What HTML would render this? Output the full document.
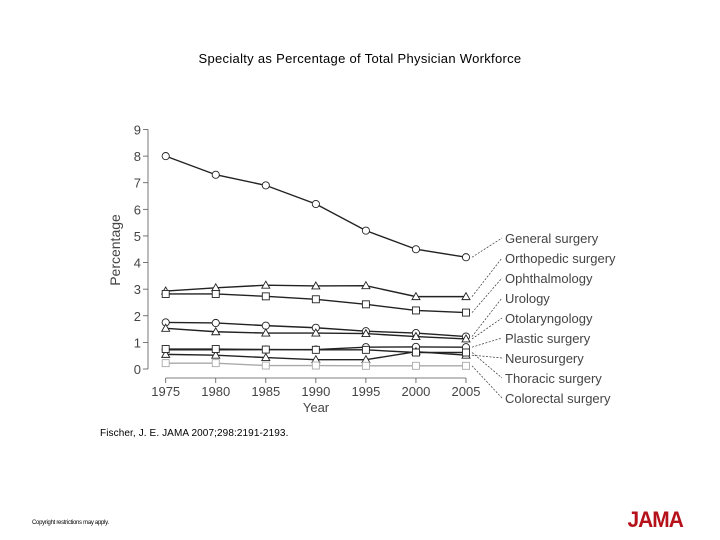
<!DOCTYPE html>
<html><head><meta charset="utf-8"><style>
body{margin:0;background:#fff;width:720px;height:540px;overflow:hidden;position:relative;font-family:"Liberation Sans",sans-serif}
.t{position:absolute;white-space:nowrap}
</style></head><body>
<div class="t" style="left:0;width:720px;text-align:center;top:51px;font-size:13px;letter-spacing:0.3px;color:#000">Specialty as Percentage of Total Physician Workforce</div>
<div class="t" style="left:100px;top:428px;font-size:10px;letter-spacing:0.1px">Fischer, J. E. JAMA 2007;298:2191-2193.</div>
<div class="t" style="left:32px;top:520px;font-size:6px;letter-spacing:-0.3px">Copyright restrictions may apply.</div>
<div class="t" style="left:626px;top:507px;font-size:22px;color:#b5121b;font-weight:bold;letter-spacing:-1px;transform:scaleX(0.95)">JAMA</div>
<svg id="chart" width="720" height="540" style="position:absolute;left:0;top:0" xmlns="http://www.w3.org/2000/svg"></svg>
<script>
const years=[1975,1980,1985,1990,1995,2000,2005];
const yTicks=[0,1,2,3,4,5,6,7,8,9];
const names=["General surgery","Orthopedic surgery","Ophthalmology","Urology","Otolaryngology","Plastic surgery","Neurosurgery","Thoracic surgery","Colorectal surgery"];
const general=[8.0,7.3,6.9,6.2,5.2,4.5,4.2];
const ortho=[2.93,3.05,3.15,3.12,3.13,2.72,2.72];
const ophth=[2.82,2.82,2.73,2.62,2.43,2.2,2.12];
const urology=[1.75,1.73,1.63,1.55,1.42,1.35,1.22];
const otolaryngology=[1.53,1.4,1.35,1.35,1.33,1.22,1.13];
const plastic=[0.72,0.72,0.73,0.73,0.82,0.83,0.82];
const neuro=[0.55,0.52,0.43,0.35,0.35,0.65,0.52];
const thoracic=[0.75,0.75,0.73,0.72,0.72,0.62,0.62];
const colorectal=[0.22,0.22,0.13,0.13,0.12,0.12,0.12];
const series=[general,ortho,ophth,urology,otolaryngology,plastic,neuro,thoracic,colorectal];
const markers=["c","t","s","c","t","c","t","s","s"];
const colors=["#222","#222","#222","#222","#222","#222","#222","#222","#aaa"];
const svg=document.getElementById('chart');
const NS="http://www.w3.org/2000/svg";
const X=y=>165.7+(y-1975)*(466-165.7)/30;
const Y=v=>369-v*(369-129.5)/9;
function el(t,a,p){const e=document.createElementNS(NS,t);for(const k in a)e.setAttribute(k,a[k]);(p||svg).appendChild(e);return e;}
let e;
e=el('line',{x1:148,x2:148,y1:Y(9),y2:Y(0),stroke:'#555','stroke-width':0.8});

e=el('line',{x1:X(1975),x2:X(2005),y1:378,y2:378,stroke:'#555','stroke-width':0.8});

yTicks.forEach(v=>{
 el('line',{x1:143,x2:148,y1:Y(v),y2:Y(v),stroke:'#555','stroke-width':0.8});
 e=el('text',{x:141,y:Y(v)+5,'text-anchor':'end','font-size':13,fill:'#444'});e.textContent=v;
 
});
years.forEach(y=>{
 el('line',{x1:X(y),x2:X(y),y1:378,y2:383,stroke:'#555','stroke-width':0.8});
 e=el('text',{x:X(y),y:396,'text-anchor':'middle','font-size':13,fill:'#444'});e.textContent=y;
 
});
e=el('text',{x:316,y:412,'text-anchor':'middle','font-size':13,fill:'#444'});e.textContent='Year';

e=el('text',{x:0,y:0,'text-anchor':'middle','font-size':14,fill:'#444',transform:'translate(120,250) rotate(-90)'});e.textContent='Percentage';

series.forEach((s,i)=>{
 const g=el('g',{});
 
 
 el('polyline',{points:s.map((v,j)=>X(years[j])+','+Y(v)).join(' '),fill:'none',stroke:colors[i],'stroke-width':1.4},g);
 s.forEach((v,j)=>{
  const cx=X(years[j]),cy=Y(v);let m;
  if(markers[i]=='c')m=el('circle',{cx:cx,cy:cy,r:3.6,fill:'#fff',stroke:colors[i],'stroke-width':0.9},g);
  else if(markers[i]=='s')m=el('rect',{x:cx-3.5,y:cy-3.5,width:7,height:7,fill:'#fff',stroke:colors[i],'stroke-width':0.9},g);
  else m=el('polygon',{points:`${cx},${cy-4} ${cx-4},${cy+3} ${cx+4},${cy+3}`,fill:'#fff',stroke:colors[i],'stroke-width':0.9},g);
  
  
 });
 const ly=238+i*20;
 el('line',{x1:X(2005)+6,y1:Y(s[6]),x2:502,y2:ly,stroke:'#333','stroke-width':0.7,'stroke-dasharray':'2,1.5'},g);
 const tx=el('text',{x:505,y:ly+5,'font-size':13,fill:'#444'},g);tx.textContent=names[i];
 
 
});
</script>
</body></html>
